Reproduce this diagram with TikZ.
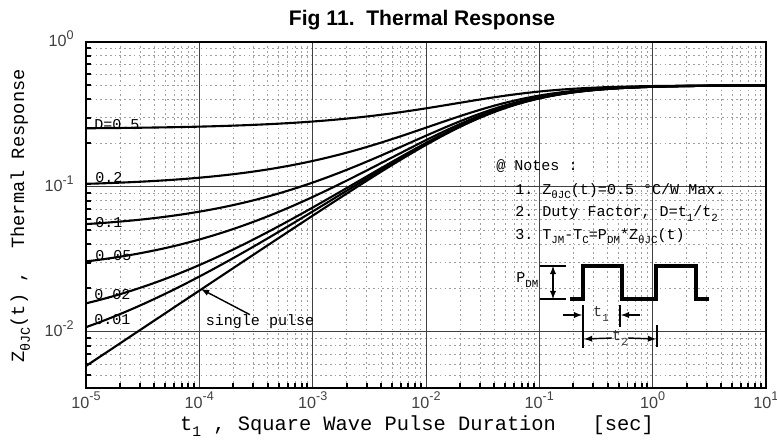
\documentclass[tikz,border=0pt]{standalone}
\usepackage{fontspec}
\setmainfont{Liberation Sans}
\setmonofont{Liberation Mono}
\usetikzlibrary{arrows,fpu}

\newcommand{\tenpow}[1]{10\raisebox{0.85ex}{\scalebox{0.78}{#1}}}
\newcommand{\lowsub}[1]{\raisebox{-0.6ex}{\scalebox{0.72}{#1}}}

\begin{document}
\begin{tikzpicture}[x=0.025cm,y=-0.025cm,
	declare function={
		logten(\x)=ln(\x)/ln(10);
		posx(\x)=86+113.33*((\x)+5);
		posy(\x)=41.7-145*(\x);
		zs(\x)=0.5/sqrt(1+exp(-2.3947*(\x)-3.0608));
		zd(\x,\y)=(\y)*0.5+(1-(\y))*zs(\x);
	}]
	\tikzstyle{minorgrid}=[gray!75,line width=0.5pt,dash pattern=on 1.2pt off 2.2pt]
	\tikzstyle{majorgrid}=[black!75,line width=0.7pt]
	\tikzstyle{tickmark}=[black,line width=1.4pt]
	\tikzstyle{frame}=[black,line width=1.5pt]
	\tikzstyle{curve}=[black,line width=1.5pt,line join=round]
	\tikzstyle{lbl}=[font=\fontsize{10.7}{12}\ttfamily,inner sep=0pt]
	\tikzstyle{ticklbl}=[font=\fontsize{11.5}{13}\selectfont,text=black!75,inner sep=0pt]
	\tikzstyle{axtitle}=[font=\fontsize{14.5}{16}\ttfamily,inner sep=0pt]
	\tikzstyle{pointer}=[->,>=latex,line width=1pt]
	\tikzstyle{marker}=[black,line width=1pt]
	\useasboundingbox (0,0) rectangle (777,441);

	% grid
	\foreach \e in {-5,...,0}{
		\foreach \m in {2,...,9}{
			\pgfmathsetmacro{\gx}{posx(\e+logten(\m))}
			\draw[minorgrid] (\gx,41.7) -- (\gx,388);
			\draw[tickmark] (\gx,388) -- (\gx,383);
		}
	}
	\foreach \e in {-1,-2}{
		\foreach \m in {2,...,9}{
			\pgfmathsetmacro{\gy}{posy(\e+logten(\m))}
			\draw[minorgrid] (86,\gy) -- (766,\gy);
			\draw[tickmark] (86,\gy) -- (91,\gy);
		}
	}
	\foreach \m in {5,...,9}{
		\pgfmathsetmacro{\gy}{posy(-3+logten(\m))}
		\draw[minorgrid] (86,\gy) -- (766,\gy);
		\draw[tickmark] (86,\gy) -- (91,\gy);
	}
	\foreach \e in {-4,...,0}
		\draw[majorgrid] ({posx(\e)},41.7) -- ({posx(\e)},388);
	\foreach \e in {-1,-2}
		\draw[majorgrid] (86,{posy(\e)}) -- (766,{posy(\e)});
	\draw[frame] (86,41.7) rectangle (766,388);

	% axis labels
	\foreach \e [count=\i] in {-5,...,1}
		\node[ticklbl,anchor=base] (xlab\i) at ({posx(\e)},408) {\tenpow{\e}};
	\foreach \e [count=\i] in {0,-1,-2}
		\node[ticklbl,anchor=base east] (ylab\i) at (74,{posy(\e)+5}) {\tenpow{\e}};
	\node[font=\fontsize{15}{18}\selectfont\bfseries,anchor=base] (title) at (422,25) {Fig 11.\ \ Thermal Response};
	\node[axtitle,anchor=base] (xtitle) at (417,430) {t\lowsub{1}~,~Square~Wave~Pulse~Duration~~~[sec]};
	\node[axtitle,font=\fontsize{13.3}{16}\ttfamily,rotate=90,anchor=base] (ytitle) at (24,216) {Z\lowsub{θJC}(t)~,~~Thermal~Response};

	% curves, points worked out with the fpu
	\foreach \dc in {0.5,0.2,0.1,0.05,0.02,0.01,0}{
		\gdef\pts{}
		\foreach \k in {0,...,60}{
			\pgfkeys{/pgf/fpu=true,/pgf/fpu/output format=fixed}
			\pgfmathsetmacro{\lx}{posx(-5+0.1*\k)}
			\pgfmathsetmacro{\ly}{posy(logten(zd(-5+0.1*\k,\dc)))}
			\xdef\pts{\pts (\lx,\ly)}
		}
		\edef\drawcurve{\noexpand\draw[curve] plot[smooth] coordinates {\pts};}
		\drawcurve
	}

	\node[lbl,anchor=west] (d1) at (94,125) {D=0.5};
	\node[lbl,anchor=west] (d2) at (95,178) {0.2};
	\node[lbl,anchor=west] (d3) at (95,223) {0.1};
	\node[lbl,anchor=west] (d4) at (95,256) {0.05};
	\node[lbl,anchor=west] (d5) at (94,295) {0.02};
	\node[lbl,anchor=west] (d6) at (94,320) {0.01};

	\node[lbl] (single) at (260,322) {single pulse};
	\coordinate (sptip) at (201,289);
	\draw[pointer] ([xshift=-0.25cm]single.north) -- (sptip);

	% notes
	\node[lbl,anchor=base west] (notes) at (496,170) {@ Notes :};
	\node[lbl,anchor=base west] (note1) at (515,194) {1.~Z\lowsub{θJC}(t)=0.5~°C/W~Max.};
	\node[lbl,anchor=base west] (note2) at (515,216.5) {2.~Duty~Factor,~D=t\lowsub{1}/t\lowsub{2}};
	\node[lbl,anchor=base west] (note3) at (515,239) {3.~T\lowsub{JM}-T\lowsub{C}=P\lowsub{DM}*Z\lowsub{θJC}(t)};

	% pulse sketch
	\node[lbl,anchor=west] (pdm) at (516,280) {P\lowsub{DM}};
	\coordinate (pdmtop) at (553,266);
	\coordinate (pdmbot) at (553,299);
	\draw[marker] (540,266) -- (566,266);
	\draw[marker] (540,299) -- (566,299);
	\draw[marker,<->,>=latex] (pdmtop) -- (pdmbot);
	\draw[line width=2.8pt] (570,299) -- (583,299) -- (583,266) -- (622,266) -- (622,299) -- (656,299) -- (656,266) -- (696,266) -- (696,299) -- (709,299);

	\node[lbl,text=black!80] (tone) at (601,314) {t\lowsub{1}};
	\node[lbl,text=black!80] (ttwo) at (620,338) {t\lowsub{2}};
	\draw[marker] (583,305) -- (583,348);
	\draw[marker] (620,305) -- (620,327);
	\draw[marker] (657,325) -- (657,347);
	\coordinate (toneL) at (563,315);
	\coordinate (toneR) at (640,315);
	\coordinate (ttwoL) at (584,339);
	\coordinate (ttwoR) at (656,339);
	\draw[pointer] (toneL) -- (582,315);
	\draw[pointer] (toneR) -- (621,315);
	\draw[pointer] (ttwo.west) -- (ttwoL);
	\draw[pointer] (ttwo.east) -- (ttwoR);
\end{tikzpicture}
\end{document}
